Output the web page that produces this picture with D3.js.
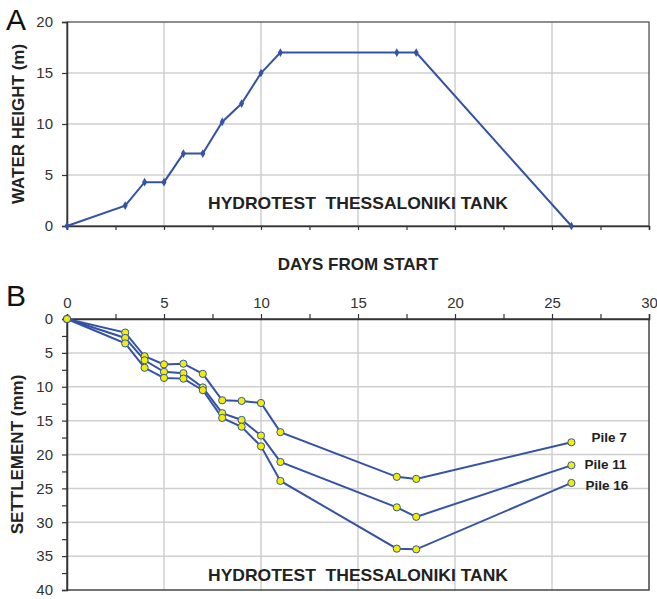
<!DOCTYPE html>
<html>
<head>
<meta charset="utf-8">
<script src="https://cdn.jsdelivr.net/npm/d3@7"></script>
<style>
  body { margin: 0; background: #fff; }
  svg { font-family: "Liberation Sans", Arial, sans-serif; }
  .tick text { fill: #333; }
</style>
</head>
<body>
<svg id="chart" width="657" height="599"></svg>
<script>
// days from start, shared by both panels
const days = [0, 3, 4, 5, 6, 7, 8, 9, 10, 11, 17, 18, 26]
// panel A: water height (m)
const waterHeight = [0, 2, 4.3, 4.3, 7.1, 7.1, 10.2, 12, 15, 17, 17, 17, 0]
// panel B: settlement (mm)
const pileNames = ['Pile 7', 'Pile 11', 'Pile 16']
const pile7 = [0, 2.0, 5.5, 6.7, 6.6, 8.1, 12.0, 12.1, 12.4, 16.7, 23.3, 23.6, 18.2]
const pile11 = [0, 2.8, 6.1, 7.8, 8.0, 10.1, 13.9, 14.9, 17.2, 21.1, 27.8, 29.2, 21.6]
const pile16 = [0, 3.6, 7.2, 8.7, 8.8, 10.5, 14.6, 15.9, 18.8, 23.9, 33.9, 34.0, 24.2]
const xTicks = [0, 5, 10, 15, 20, 25, 30]
const heightTicks = [0, 5, 10, 15, 20]
const settleTicks = [0, 5, 10, 15, 20, 25, 30, 35, 40]

const blue = '#3553a4'
const gridColor = '#cfcfcf'
const axisColor = '#333'
const svg = d3.select('#chart')

const left = 67, right = 649
const x = d3.scaleLinear().domain([0, 30]).range([left, right])
const yA = d3.scaleLinear().domain([0, 20]).range([226, 22])
const yB = d3.scaleLinear().domain([0, 40]).range([319, 590])

function grid(g, y, yVals) {
  g.selectAll('.vg').data([5, 10, 15, 20, 25]).join('line')
    .attr('x1', d => x(d)).attr('x2', d => x(d))
    .attr('y1', y.range()[0]).attr('y2', y.range()[1])
    .attr('stroke', gridColor).attr('stroke-width', 1.5)
  g.selectAll('.hg').data(yVals).join('line')
    .attr('x1', left).attr('x2', right)
    .attr('y1', d => y(d)).attr('y2', d => y(d))
    .attr('stroke', gridColor).attr('stroke-width', 1.5)
}

function styleAxis(g) {
  g.select('.domain').attr('stroke', axisColor).attr('stroke-width', 1.5)
  g.selectAll('.tick line').attr('stroke', axisColor).attr('stroke-width', 1.2)
  g.selectAll('.tick text').attr('font-size', 15)
}

function tankTitle(g, y) {
  g.append('text').attr('x', 208).attr('y', y)
    .attr('font-size', 17).attr('font-weight', 'bold').attr('fill', '#222')
    .attr('xml:space', 'preserve')
    .attr('textLength', 300).attr('lengthAdjust', 'spacingAndGlyphs')
    .text('HYDROTEST  THESSALONIKI TANK')
}

// ---------- panel A ----------
const gA = svg.append('g')
grid(gA, yA, [5, 10, 15])
gA.append('rect')
  .attr('x', left).attr('y', 22).attr('width', right - left).attr('height', 204)
  .attr('fill', 'none').attr('stroke', '#444').attr('stroke-width', 1.2)

gA.append('g').attr('transform', `translate(0,${yA(0)})`)
  .call(d3.axisBottom(x).tickValues(d3.range(0, 30.1, 2.5)).tickSize(4).tickFormat(''))
  .call(styleAxis)
gA.append('g').attr('transform', `translate(${left},0)`)
  .call(d3.axisLeft(yA).tickValues(heightTicks).tickSize(5).tickPadding(9))
  .call(styleAxis)

const lineA = d3.line().x((d, i) => x(days[i])).y(d => yA(d))
gA.append('path').datum(waterHeight)
  .attr('d', lineA).attr('fill', 'none').attr('stroke', blue).attr('stroke-width', 2)
gA.selectAll('.mk').data(waterHeight).join('path')
  .attr('d', d3.symbol(d3.symbolDiamond, 22))
  .attr('transform', (d, i) => `translate(${x(days[i])},${yA(d)})`)
  .attr('fill', blue)

tankTitle(gA, 209)
svg.append('text')
  .attr('transform', `translate(24,${(yA(0) + yA(20)) / 2}) rotate(-90)`)
  .attr('text-anchor', 'middle').attr('font-size', 17).attr('font-weight', 'bold').attr('fill', '#222')
  .text('WATER HEIGHT (m)')
svg.append('text').attr('x', 6).attr('y', 30).attr('font-size', 30).attr('fill', '#111').text('A')

svg.append('text').attr('x', 358).attr('y', 270)
  .attr('text-anchor', 'middle').attr('font-size', 17).attr('font-weight', 'bold').attr('fill', '#222')
  .text('DAYS FROM START')

// ---------- panel B ----------
const gB = svg.append('g')
grid(gB, yB, [5, 10, 15, 20, 25, 30, 35])
gB.append('rect')
  .attr('x', left).attr('y', 319).attr('width', right - left).attr('height', 271)
  .attr('fill', 'none').attr('stroke', '#444').attr('stroke-width', 1.5)

gB.append('g').attr('transform', `translate(0,${yB(0)})`)
  .call(d3.axisTop(x).tickValues(d3.range(0, 30.1, 2.5)).tickSize(5).tickPadding(6)
    .tickFormat(d => xTicks.includes(d) ? d : ''))
  .call(styleAxis)
gB.append('g').attr('transform', `translate(${left},0)`)
  .call(d3.axisLeft(yB).tickValues(d3.range(0, 40.1, 2.5)).tickSize(5).tickPadding(9)
    .tickFormat(d => settleTicks.includes(d) ? d : ''))
  .call(styleAxis)

const piles = [pile7, pile11, pile16]
const lineB = d3.line().x((d, i) => x(days[i])).y(d => yB(d))
gB.selectAll('.pl').data(piles).join('path')
  .attr('d', lineB).attr('fill', 'none').attr('stroke', blue).attr('stroke-width', 2)
piles.forEach(p => {
  gB.append('g').selectAll('circle').data(p).join('circle')
    .attr('cx', (d, i) => x(days[i])).attr('cy', d => yB(d)).attr('r', 3.6)
    .attr('fill', '#f2ee00').attr('stroke', blue).attr('stroke-width', 1)
})

const labelDx = [20, 13, 14]
const labelDy = [5, 9, 12]
pileNames.forEach((name, k) => {
  const last = piles[k][piles[k].length - 1]
  gB.append('text')
    .attr('x', x(26) + labelDx[k]).attr('y', yB(last) + labelDy[k] - 5)
    .attr('font-size', 13.5).attr('font-weight', 'bold').attr('fill', '#222')
    .text(name)
})

tankTitle(gB, 581)
svg.append('text')
  .attr('transform', `translate(23,${(yB(0) + yB(40)) / 2}) rotate(-90)`)
  .attr('text-anchor', 'middle').attr('font-size', 17).attr('font-weight', 'bold').attr('fill', '#222')
  .text('SETTLEMENT (mm)')
svg.append('text').attr('x', 6).attr('y', 306).attr('font-size', 30).attr('fill', '#111').text('B')
</script>
</body>
</html>
